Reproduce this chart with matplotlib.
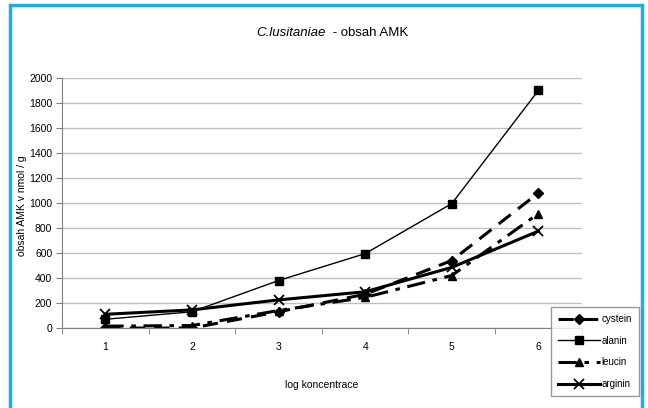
import numpy as np
import matplotlib.pyplot as plt
from matplotlib.patches import Rectangle

plt.rcParams['font.family'] = ['Liberation Sans', 'DejaVu Sans']

# hodnoty
log_konc = [1, 2, 3, 4, 5, 6]
cystein = [0, 0, 130, 270, 540, 1080]
alanin = [70, 130, 380, 595, 995, 1900]
leucin = [15, 20, 140, 245, 420, 915]
arginin = [110, 145, 225, 290, 485, 775]

fig = plt.figure(figsize=(6.48, 4.08), dpi=100)
ax = fig.add_axes([0.0957, 0.196, 0.802, 0.613])

# modry ramecek kolem celeho obrazku
fig.patches.append(Rectangle((10 / 648, -0.05), 632 / 648, 1 - 5 / 408 + 0.05,
                             transform=fig.transFigure, fill=False,
                             edgecolor='#1aaee8', linewidth=2.5))

ax.plot(log_konc, cystein, color='black', lw=2.2, dashes=(5, 3),
        marker='D', ms=5, label='cystein')
ax.plot(log_konc, alanin, color='black', lw=1.0,
        marker='s', ms=5.5, label='alanin')
ax.plot(log_konc, leucin, color='black', lw=2.2, dashes=(6, 2.5, 1.5, 2.5),
        marker='^', ms=6, label='leucin')
ax.plot(log_konc, arginin, color='black', lw=2.2,
        marker='x', ms=6.5, mew=1.3, label='arginin')

ax.set_xlim(0.5, 6.5)
ax.set_ylim(0, 2000)
ax.set_yticks(np.arange(0, 2001, 200))
ax.set_xticks(log_konc)
ax.set_xticks(np.arange(0.5, 6.6, 1), minor=True)
ax.tick_params(axis='x', which='major', length=0, pad=10, labelsize=7.5)
ax.tick_params(axis='x', which='minor', length=4, color='#808080')
ax.tick_params(axis='y', length=4, color='#808080', labelsize=7.5, pad=3)
ax.grid(axis='y', color='#c0c0c0', lw=1)
ax.set_axisbelow(True)
for s in ['top', 'right']:
    ax.spines[s].set_visible(False)
ax.spines['left'].set_color('#808080')
ax.spines['bottom'].set_color('#808080')

ax.set_xlabel('log koncentrace', fontsize=7.5, labelpad=20)
ax.set_ylabel('obsah AMK v nmol / g', fontsize=7.5)
ax.yaxis.set_label_coords(-0.067, 0.49)

fig.text(0.502, 0.918, 'C.lusitaniae', fontsize=9.5, style='italic', ha='right', va='center')
fig.text(0.508, 0.918, ' - obsah AMK', fontsize=9.5, ha='left', va='center')

leg = fig.legend(loc='upper left', bbox_to_anchor=(0.850, 0.247), fontsize=7,
                 frameon=True, fancybox=False, edgecolor='#808080',
                 handlelength=4.4, handletextpad=0.1, labelspacing=1.2,
                 borderpad=0.7, borderaxespad=0)
leg.get_frame().set_linewidth(1.0)

fig.savefig('out.png', dpi=100)
